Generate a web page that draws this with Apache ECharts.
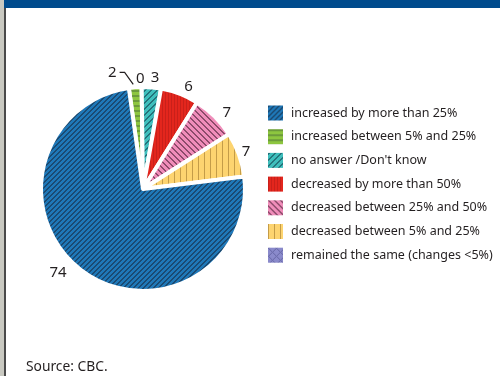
<!DOCTYPE html>
<html><head><meta charset="utf-8">
<script src="https://cdn.jsdelivr.net/npm/echarts@6/dist/echarts.min.js"></script>
<style>html,body{margin:0;padding:0;background:#fff}#c{width:500px;height:376px}</style>
</head><body><div id="c"></div>
<script>
// Data (pie order, clockwise from top)
const categories = ['increased between 5% and 25%', 'remained the same (changes <5%)', "no answer /Don't know", 'decreased by more than 50%', 'decreased between 25% and 50%', 'decreased between 5% and 25%', 'increased by more than 25%'];
const values = [2, 0, 3, 6, 7, 7, 74];
const legendOrder = ['increased by more than 25%', 'increased between 5% and 25%', "no answer /Don't know", 'decreased by more than 50%', 'decreased between 25% and 50%', 'decreased between 5% and 25%', 'remained the same (changes <5%)'];
const sourceText = 'Source: CBC.';
// label nudges (layout only), by pie index
const labelNudge = [[-10,-7],[5,-4],[-3,-6],[1,-3],[3,-1],[-3,-1],[-10,0]];

function hex(h){h=h.replace('#','');return [parseInt(h.slice(0,2),16),parseInt(h.slice(2,4),16),parseInt(h.slice(4,6),16)];}
function pat(size, base, dark, test){
  const c=document.createElement('canvas'); c.width=size; c.height=size;
  const ctx=c.getContext('2d');
  const img=ctx.createImageData(size,size);
  const b=hex(base), d=hex(dark);
  for(let y=0;y<size;y++)for(let x=0;x<size;x++){
    const col=test(x,y,size)?d:b; const i=(y*size+x)*4;
    img.data[i]=col[0];img.data[i+1]=col[1];img.data[i+2]=col[2];img.data[i+3]=255;
  }
  ctx.putImageData(img,0,0);
  return {image:c, repeat:'repeat'};
}
const patterns = {
  'increased by more than 25%': pat(5,'#1f78b8','#1a4a72',(x,y,s)=>((x+y)%s)<2),
  'increased between 5% and 25%': pat(5,'#8dc63f','#6c9a3c',(x,y,s)=>(y%s)<2),
  "no answer /Don't know": pat(6,'#3fbfbd','#23727a',(x,y,s)=>((x+y)%s)<2),
  'decreased by more than 50%': pat(3,'#e3261d','#c9201a',(x,y,s)=>(x%s)<1),
  'decreased between 25% and 50%': pat(6,'#f08dba','#8d4b6b',(x,y,s)=>((x-y+s*4)%s)<2),
  'decreased between 5% and 25%': pat(6,'#fdd470','#c49c48',(x,y,s)=>(x%s)<1),
  'remained the same (changes <5%)': pat(8,'#8a8acb','#6767a6',(x,y,s)=>((x+y)%s)<1||((x-y+s*4)%s)<1)
};

const data = categories.map((name,i)=>{
  const item = {name, value: values[i], itemStyle:{color: patterns[name]}};
  if (i===0) item.labelLine = {show:true, length:8, length2:6, lineStyle:{color:'#231f20', width:1.2}};
  return item;
});

function layoutLabel(p){
  const n = labelNudge[p.dataIndex];
  const out = {dx:n[0], dy:n[1]};
  if (p.dataIndex === 0 && p.labelLinePoints) {
    const r = p.labelRect;
    const right = r.x + r.width + n[0];
    const midY = r.y + r.height/2 + n[1];
    const s = p.labelLinePoints[0];
    out.labelLinePoints = [[s[0]-2, s[1]-3], [right+8, midY], [right+3, midY]];
  }
  return out;
}

const chart = echarts.init(document.getElementById('c'), null, {renderer:'canvas'});
chart.setOption({
  animation:false,
  backgroundColor:'#fff',
  legend:{
    data: legendOrder, orient:'vertical', left:268, top:105.5, padding:0,
    itemWidth:15, itemHeight:15, itemGap:8.7, icon:'rect', selectedMode:false,
    itemStyle:{borderWidth:0},
    textStyle:{fontFamily:'Noto Sans', fontSize:12.5, color:'#231f20', lineHeight:15, padding:[0,0,0,3]}
  },
  graphic:[
    {type:'rect', shape:{x:0,y:0,width:4,height:376}, style:{fill:'#c9c9c1'}},
    {type:'rect', shape:{x:4,y:0,width:2,height:376}, style:{fill:'#4a4a4a'}},
    {type:'rect', shape:{x:4,y:0,width:496,height:8}, style:{fill:'#004b8d'}},
    {type:'text', left:26, top:360, style:{text:sourceText, fontFamily:'Noto Sans', fontSize:13.8, fill:'#231f20'}}
  ],
  series:[{
    type:'pie', center:[143,189], radius:102, startAngle:98, clockwise:true,
    avoidLabelOverlap:false,
    itemStyle:{borderColor:'#fff', borderWidth:4},
    label:{show:true, position:'outside', formatter:'{c}', fontFamily:'Noto Sans', fontSize:15, color:'#231f20', distanceToLabelLine:2},
    labelLine:{show:false, length:4, length2:0},
    labelLayout: layoutLabel,
    emphasis:{disabled:true},
    data
  }]
});
</script></body></html>
